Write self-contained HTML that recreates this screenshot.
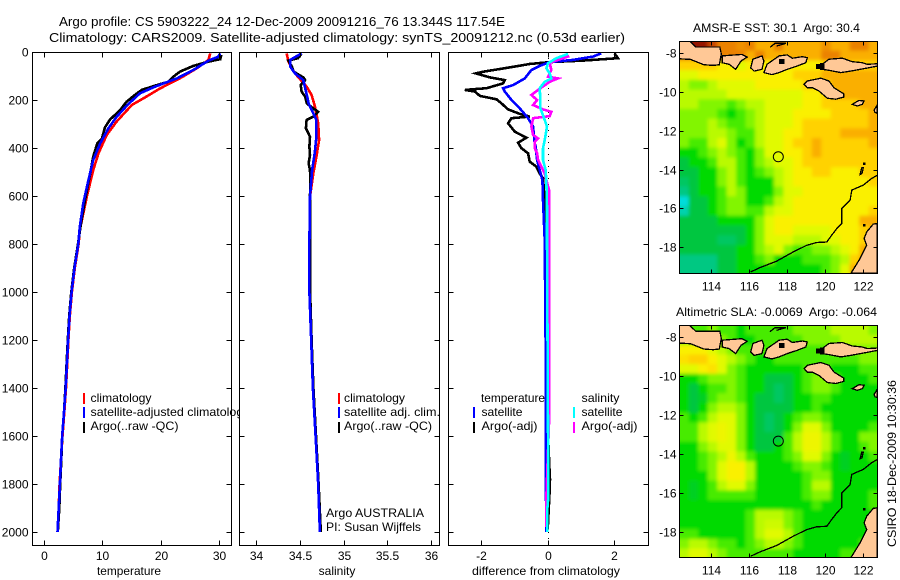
<!DOCTYPE html>
<html lang="en">
<head>
<meta charset="utf-8">
<title>Argo profile 5903222_24</title>
<style>
html,body{margin:0;padding:0;background:#fff;width:900px;height:580px;overflow:hidden}
svg{display:block}
text{font-family:"Liberation Sans",sans-serif;font-size:12px;fill:#000}
.t{font-size:13px}
</style>
</head>
<body>
<svg id="chart" xmlns="http://www.w3.org/2000/svg" width="900" height="580" viewBox="0 0 900 580">
<defs>
<clipPath id="legendClip"><rect x="0" y="0" width="240" height="580"/></clipPath>
<clipPath id="map1Clip"><rect x="679.5" y="41.5" width="198" height="232"/></clipPath>
<clipPath id="map2Clip"><rect x="679.5" y="325.5" width="198" height="232"/></clipPath>
<filter id="soft" x="-5%" y="-5%" width="110%" height="110%"><feGaussianBlur stdDeviation="1.8"/></filter>
</defs>
<text class="t" x="59" y="26" textLength="446" lengthAdjust="spacingAndGlyphs">Argo profile: CS 5903222_24 12-Dec-2009 20091216_76 13.344S 117.54E</text>
<text class="t" x="49" y="42" textLength="576" lengthAdjust="spacingAndGlyphs">Climatology: CARS2009. Satellite-adjusted climatology: synTS_20091212.nc (0.53d earlier)</text>
<g id="temperaturePanel"></g>
<g id="salinityPanel"></g>
<g id="differencePanel"></g>
<g id="map1"></g>
<g id="map2"></g>

<text x="129" y="575" text-anchor="middle" textLength="64" lengthAdjust="spacingAndGlyphs">temperature</text>
<text x="337" y="575" text-anchor="middle">salinity</text>
<text x="546" y="575" text-anchor="middle" textLength="148" lengthAdjust="spacingAndGlyphs">difference from climatology</text>

<g>
<rect x="83" y="393" width="2" height="11" fill="#f00"/>
<rect x="83" y="407" width="2" height="11" fill="#00f"/>
<rect x="83" y="422" width="2" height="11" fill="#000"/>
<text x="90.5" y="402" textLength="61" lengthAdjust="spacingAndGlyphs">climatology</text>
<text x="90.5" y="416" clip-path="url(#legendClip)" textLength="159" lengthAdjust="spacingAndGlyphs">satellite-adjusted climatology</text>
<text x="90.5" y="430" textLength="88" lengthAdjust="spacingAndGlyphs">Argo(..raw -QC)</text>
</g>
<g>
<rect x="338" y="393" width="2" height="11" fill="#f00"/>
<rect x="338" y="407" width="2" height="11" fill="#00f"/>
<rect x="338" y="422" width="2" height="11" fill="#000"/>
<text x="344" y="402" textLength="61" lengthAdjust="spacingAndGlyphs">climatology</text>
<text x="344" y="416" textLength="96" lengthAdjust="spacingAndGlyphs">satellite adj. clim.</text>
<text x="344" y="430" textLength="88" lengthAdjust="spacingAndGlyphs">Argo(..raw -QC)</text>
<text x="326" y="517" textLength="98" lengthAdjust="spacingAndGlyphs">Argo AUSTRALIA</text>
<text x="326" y="531" textLength="95" lengthAdjust="spacingAndGlyphs">PI: Susan Wijffels</text>
</g>
<g>
<text x="481" y="402" textLength="64" lengthAdjust="spacingAndGlyphs">temperature</text>
<rect x="473" y="407" width="2" height="11" fill="#00f"/>
<rect x="473" y="422" width="2" height="11" fill="#000"/>
<text x="481.5" y="416" textLength="41" lengthAdjust="spacingAndGlyphs">satellite</text>
<text x="481.5" y="430" textLength="56" lengthAdjust="spacingAndGlyphs">Argo(-adj)</text>
<text x="581.5" y="402" textLength="38" lengthAdjust="spacingAndGlyphs">salinity</text>
<rect x="573" y="407" width="2" height="11" fill="#0ff"/>
<rect x="573" y="422" width="2" height="11" fill="#f0f"/>
<text x="581.5" y="416" textLength="41" lengthAdjust="spacingAndGlyphs">satellite</text>
<text x="581.5" y="430" textLength="56" lengthAdjust="spacingAndGlyphs">Argo(-adj)</text>
</g>

<text x="693" y="32" textLength="167" lengthAdjust="spacingAndGlyphs">AMSR-E SST: 30.1&#160; Argo: 30.4</text>
<text x="676" y="316" textLength="201" lengthAdjust="spacingAndGlyphs">Altimetric SLA: -0.0069&#160; Argo: -0.064</text>
<text transform="translate(896,547) rotate(-90)" x="0" y="0" textLength="167" lengthAdjust="spacingAndGlyphs">CSIRO 18-Dec-2009 10:30:36</text>
</svg>

<script>
// ---- shared axis data ----
const depthTicks = [0,200,400,600,800,1000,1200,1400,1600,1800,2000];
const temperatureTicks = [0,10,20,30];
const salinityTicks = [34,34.5,35,35.5,36];
const salinityTickLabels = ['34','34.5','35','35.5','36'];
const differenceTicks = [-2,0,2];
const lonTicks = [114,116,118,120,122];
const latTicks = [-8,-10,-12,-14,-16,-18];

// ---- temperature profiles ----
const tailDepths = [800,900,1000,1100,1200,1300,1400,1500,1600,1700,1800,1900,2000];
const tempClimDepths = [6,33,68,110,151,193,221,290,346,422,492,603,742];
const tempClimValues = [28.5,28.2,26.2,23.3,20,17.1,15.1,12.5,10.8,9.4,8.5,7.4,6.2];
const tempClimTail = [6.0,5.35,4.85,4.5,4.25,4.05,3.85,3.55,3.25,3.0,2.75,2.6,2.4];
const tempSatDepths = [6,19,36,75,110,126,147,172,217,270,318,381,450,533,630,728];
const tempSatValues = [30.2,29.9,28.2,25.6,22.8,21.06,18.8,16.5,14.5,12.5,11.1,9.7,8.5,7.7,6.8,6.2];
const tempSatTail = [5.95,5.3,4.8,4.45,4.2,4.0,3.8,3.5,3.2,3.0,2.8,2.6,2.4];
const tempArgoDepths = [12,30,40,58,82,103,124,142,158,179,207,242,281,314,360,381,436,505,617,700];
const tempArgoValues = [30.4,30.2,28.2,25.6,23.3,22.2,21.3,18.8,16.8,15.6,14.2,13.1,11.4,10.5,10,9.2,8.5,8,7.1,6.5];
const tempArgoTail = [5.9,5.25,4.75,4.4,4.15,3.95,3.75,3.5,3.2,3.05,2.85,2.7,2.45];

// ---- salinity profiles ----
const salTailDepths = [800,1000,1200,1400,1600,1800,2000];
const salClimDepths = [6,40,89,144,179,228,297,367,436,506,603];
const salClimValues = [34.35,34.37,34.445,34.578,34.635,34.673,34.71,34.72,34.69,34.654,34.616];
const salClimTail = [34.61,34.61,34.63,34.65,34.68,34.71,34.73];
const salSatDepths = [6,33,61,89,117,186,214,283,353,422,492,603];
const salSatValues = [34.52,34.39,34.39,34.445,34.54,34.585,34.6,34.69,34.69,34.67,34.64,34.616];
const salSatTail = [34.61,34.61,34.63,34.65,34.68,34.71,34.73];
const salArgoDepths = [6,26,36,61,82,106,117,138,165,186,214,235,249,269,283,318,353,394,429,464,492,533,603];
const salArgoValues = [34.52,34.48,34.37,34.41,34.43,34.54,34.56,34.51,34.52,34.56,34.58,34.654,34.71,34.654,34.578,34.57,34.616,34.61,34.616,34.6,34.616,34.62,34.616];
const salArgoTail = [34.618,34.618,34.635,34.655,34.685,34.715,34.74];

// ---- difference profiles ----
const diffTempArgoDepths = [6,26,36,42,50,64,82,89,106,117,131,151,158,165,183,197,214,239,258,269,276,297,332,357,378,401,422,457,478,506,526,617,783,1400,1730,1780,1850,1990];
const diffTempArgoValues = [2.01,2.11,1.06,0.06,-0.54,-1.14,-1.94,-2.16,-1.74,-1.29,-1.34,-1.84,-2.49,-2.19,-2.04,-1.54,-1.39,-1.19,-0.84,-0.54,-1.09,-1.19,-0.99,-0.64,-0.89,-0.79,-0.59,-0.54,-0.34,-0.24,-0.14,-0.09,-0.09,-0.05,0.05,0.07,0.05,0];
const diffTempSatDepths = [6,19,33,42,58,75,110,138,151,165,200,235,276,311,381,394,450,492,533,617,783,1400,1850,2000];
const diffTempSatValues = [1.61,1.36,0.76,0.06,-0.24,-0.49,-0.69,-1.04,-1.34,-1.29,-1.09,-0.84,-0.59,-0.44,-0.39,-0.36,-0.32,-0.24,-0.16,-0.14,-0.09,-0.05,-0.05,-0.04];
const diffSalArgoDepths = [6,19,40,47,75,103,110,124,158,179,200,221,239,249,267,276,311,346,360,374,401,422,450,478,506,533,575,783,1500,1850,1980];
const diffSalArgoValues = [0.56,0.61,0.16,0.06,0.11,0.01,0.31,0.06,-0.29,-0.49,-0.32,-0.44,-0.14,0.11,0.06,-0.44,-0.49,-0.44,-0.29,-0.39,-0.39,-0.32,-0.29,-0.19,-0.09,-0.04,0.04,0.04,0.05,-0.04,-0.04];
const diffSalSatDepths = [8,26,47,68,89,110,124,151,200,235,283,311,367,401,450,492,547,644,783,1850,1900,2000];
const diffSalSatValues = [0.61,0.26,0.01,-0.04,0.06,0.11,-0.09,-0.24,-0.22,-0.22,-0.09,-0.02,-0.09,-0.14,-0.14,-0.06,-0.04,-0.02,-0.02,0.02,-0.01,-0.01];

// ---- map fields, 0.5 degree cells, north to south, west to east ----
const sstRows = [
[31.3,31.9,31.9,31.6,31.3,31.3,31.2,31.3,31,31,31.3,31,31,31,31,31.2,31,31,31.3,31.3,31],
[31.3,31.3,31.3,31.3,31.3,31.3,31.3,31,31.3,31,31,31,31,31,31,31.3,31.3,31,31,31,31],
[30.7,30.7,30.7,30.7,30.4,30.4,30.1,30.4,30.4,30.4,30.4,30.4,30.4,30.4,30.4,30.7,30.7,31,30.7,30.7,30.7],
[30.1,30.1,30.4,30.4,30.4,30.4,30.4,30.4,30.4,30.4,30.4,30.4,30.7,30.7,30.7,31,31,31,31,31,31],
[29.8,29.5,29.5,29.8,30.1,30.1,30.1,30.1,30.4,30.4,30.4,30.4,30.4,30.7,30.7,30.7,31,31,31,31,31],
[29.8,29.8,29.8,29.8,29.8,30.1,30.1,30.1,30.1,30.1,30.1,30.1,30.1,30.4,30.4,30.7,31,31,31,31,31],
[29.8,29.8,29.5,29.5,29.5,29.2,29.5,29.8,29.8,30.1,30.1,30.1,30.1,30.4,30.4,30.7,30.7,30.7,30.7,31,31],
[29.5,29.5,29.5,29.5,29.2,28.9,29.2,29.5,29.8,30.1,30.1,30.1,30.4,30.4,30.4,30.4,30.7,30.7,30.7,30.7,31],
[29.5,29.5,29.5,29.8,29.5,29.2,29.2,29.5,29.8,30.1,30.1,30.1,30.4,30.7,30.7,30.7,30.7,30.7,30.7,30.7,31],
[29.5,29.5,29.5,29.8,29.8,29.5,29.2,29.2,29.8,30.1,30.1,30.4,30.4,30.7,30.7,30.7,30.7,31,31,31,31],
[29.5,29.2,29.2,29.8,30.1,29.5,28.9,29.2,29.8,30.1,30.1,30.4,30.7,30.7,31,30.7,30.7,30.7,30.7,30.7,31],
[28.9,28.9,29.2,29.5,29.8,29.5,29.2,28.9,29.5,30.1,30.1,30.4,30.4,30.7,31,30.7,30.7,30.7,30.7,30.7,30.7],
[28.6,28.9,28.9,29.2,29.8,29.8,29.2,28.9,29.5,29.8,30.1,30.1,30.4,30.7,30.7,30.7,30.7,30.7,30.7,30.7,30.7],
[28.6,28.6,28.9,28.9,29.5,29.8,29.2,28.9,29.2,29.5,29.8,30.1,30.4,30.4,30.7,30.7,30.4,30.4,30.4,30.7,30.7],
[28.45,28.6,28.9,28.9,29.5,29.8,29.2,28.9,28.9,28.9,29.8,30.1,30.4,30.4,30.4,30.4,30.4,30.4,30.4,30.4,30.7],
[28.3,28.6,28.9,28.9,29.2,29.8,29.5,28.9,28.9,28.9,29.5,30.1,30.1,30.4,30.4,30.4,30.4,30.4,30.4,30.4,30.4],
[28,28.6,28.6,28.9,29.2,29.5,29.5,28.9,28.9,29.2,29.8,30.1,30.4,30.4,30.4,30.4,30.4,30.4,30.4,30.4,30.4],
[28.15,28.6,28.6,28.9,29.2,29.5,29.5,29.2,29.2,29.8,30.1,30.1,30.4,30.4,30.4,30.4,30.4,30.4,30.4,30.4,30.7],
[28.6,28.6,28.6,28.6,28.9,28.9,28.9,28.9,29.5,30.1,30.4,30.4,30.4,30.4,30.4,30.4,30.4,30.4,30.4,31,31],
[28.6,28.6,28.6,28.6,28.6,28.6,28.6,28.9,29.5,30.1,30.4,30.4,30.1,30.1,30.1,30.1,30.4,30.4,30.4,30.7,31],
[28.6,28.6,28.6,28.6,28.45,28.45,28.6,28.9,29.5,30.1,30.1,30.1,29.8,29.8,29.8,30.1,30.1,30.4,30.4,30.7,31],
[28.6,28.6,28.6,28.6,28.6,28.6,28.9,28.9,29.5,29.8,30.1,29.5,29.2,29.2,29.5,29.5,29.8,30.1,30.4,31,31],
[28.3,28.3,28.3,28.3,28.6,28.6,28.9,28.9,29.2,29.5,28.9,28.9,28.9,29.2,29.2,29.2,29.5,29.8,30.7,31,31],
[28.3,28.3,28.3,28.3,28.6,28.6,28.9,28.9,28.9,28.9,28.9,28.9,28.9,28.9,28.9,29.2,29.5,30.1,31,31,31]
];
const slaRows = [
[0,0,0,3,0,0,-3,0,0,0,0,0,3,3,3,3,6,6,6,6,3],
[3,3,3,3,3,0,-3,-3,0,0,0,0,0,3,3,3,3,6,6,6,6],
[12,12,12,9,6,3,0,0,0,0,0,0,0,0,0,0,3,3,3,3,3],
[13.5,15,15,12,9,6,3,0,-3,-3,0,0,0,0,0,0,0,0,0,3,3],
[9,9,12,13.5,9,3,0,-3,-3,-3,-3,-3,-3,0,0,0,-3,-3,-3,0,0],
[-3,-3,0,3,3,3,0,-3,-3,-6,-6,-6,-3,0,3,3,0,-3,-3,-3,0],
[-3,-6,-3,0,0,3,0,-3,-3,-6,-7.5,-6,-3,0,3,3,0,-3,-3,-3,-3],
[-3,-6,-4.5,0,3,3,0,-3,-6,-6,-7.5,-6,-3,-3,0,0,-3,-3,-3,-3,-3],
[-3,-6,-3,3,6,6,3,-3,-6,-6,-6,-6,-3,-3,0,-3,-3,-3,-3,-3,-3],
[0,-3,0,6,9,9,3,-3,-6,-7.5,-6,-3,0,3,3,0,-3,-3,-3,-3,-3],
[0,0,6,9,10.5,9,3,-3,-6,-7.5,-6,-3,3,9,9,3,-3,-3,-3,-3,0],
[0,0,6,9,10.5,9,3,-3,-6,-6,-6,0,6,10.5,10.5,6,0,-3,-3,3,3],
[-3,-3,3,6,9,9,3,-3,-6,-6,-3,0,6,10.5,10.5,6,0,-3,-3,0,3],
[-3,-3,0,3,6,10.5,6,0,-3,-3,-3,0,3,9,9,3,-3,-4.5,-3,-3,0],
[-3,-3,0,3,9,12,12,6,-3,-3,-3,-3,0,3,3,0,-3,-4.5,-3,-3,-3],
[-3,-3,-3,3,9,12,12,6,-3,-3,-3,-3,-3,0,3,3,-3,-3,-3,-3,-3],
[-3,-4.5,-3,0,6,9,9,3,-3,-3,-3,-3,-3,0,6,6,-3,-3,-3,-3,-3],
[-3,-4.5,-3,0,0,0,0,0,-3,-3,-3,-3,-3,0,3,3,-3,-3,-3,-3,0],
[-3,-3,-3,-3,-3,-3,-3,-3,-3,-3,-3,-3,-3,-3,0,-3,-3,-3,-3,-3,0],
[-3,-3,-3,-3,-3,-3,-3,0,6,6,6,3,0,-3,-3,-3,-3,-3,-3,-3,-3],
[-3,-3,-3,-3,-3,-3,-3,0,6,7.5,7.5,3,0,-3,-3,-3,-3,-3,-3,-3,-3],
[0,0,-3,-3,-3,-3,-3,0,6,9,9,6,0,-3,-3,-3,-3,-3,-3,-3,0],
[3,6,6,3,0,0,-3,0,3,6,6,3,0,-3,-3,-3,-3,-3,-3,0,3],
[6,9,9,6,3,0,0,0,0,0,0,0,-3,-3,-3,-3,-3,0,0,0,0]
];

// ---- coastline geography, lon/lat pairs ----
const landJava = [[112.31,-7.35],[112.82,-7.35],[113.18,-7.69],[114.45,-7.69],[114.53,-8.05],[114.42,-8.6],[114.1,-8.64],[113.6,-8.6],[112.9,-8.33],[112.31,-8.3]];
const landBali = [[114.57,-8.15],[115.62,-8.07],[115.89,-8.21],[115.57,-8.41],[115.29,-8.84],[114.94,-8.58],[114.57,-8.5]];
const landLombok = [[116.08,-8.76],[116.2,-8.32],[116.68,-8.15],[116.78,-8.41],[116.68,-8.84],[116.26,-8.93]];
const landSumbawa = [[116.78,-9.01],[116.94,-8.58],[117.58,-8.15],[118.01,-8.1],[118.28,-8.27],[118.81,-8.19],[119.07,-8.24],[118.99,-8.5],[118.54,-8.67],[118.01,-8.84],[117.58,-9.01],[117.2,-9.11]];
const landFlores = [[119.86,-8.58],[120.22,-8.32],[120.92,-8.27],[121.45,-8.45],[121.98,-8.5],[122.24,-8.58],[122.8,-8.55],[122.8,-8.67],[122.16,-8.79],[121.36,-8.93],[120.84,-9.01],[120.22,-8.89],[119.86,-8.84]];
const landSumba = [[118.9,-9.61],[119.07,-9.44],[119.78,-9.3],[120.22,-9.44],[120.48,-9.79],[121,-10.1],[121,-10.27],[120.57,-10.38],[120.13,-10.33],[119.69,-9.96],[119.34,-9.79],[119.07,-9.79]];
const landSavu = [[121.45,-10.64],[121.8,-10.44],[122.07,-10.47],[121.98,-10.64],[121.71,-10.73]];
const landRote = [[122.6,-10.94],[122.77,-10.68],[122.77,-11.11],[122.65,-11.06]];
const landAustralia = [[121.38,-19.34],[121.86,-18.58],[122.21,-17.9],[122.07,-17.55],[122.21,-17.21],[122.56,-16.81],[122.77,-16.78],[122.77,-19.34]];
const reefKomodoWest = [[119.55,-8.6],[119.72,-8.6],[119.72,-8.8],[119.55,-8.8]];
const reefKomodoEast = [[119.78,-8.55],[119.93,-8.55],[119.93,-8.85],[119.78,-8.85]];
const reefSumbawa = [[117.62,-8.33],[117.82,-8.33],[117.82,-8.52],[117.62,-8.52]];
const reefAshmore = [[121.86,-14.25],[121.95,-13.91],[122.03,-13.91],[121.96,-14.2]];
const reefCartier = [[122.05,-13.68],[122.1,-13.68],[122.1,-13.74],[122.05,-13.74]];
const reefRowley = [[122.04,-16.83],[122.1,-16.83],[122.1,-16.89],[122.04,-16.89]];
const coastContour = [[116.08,-19.27],[116.57,-19.05],[117.45,-18.72],[118.33,-18.24],[119.04,-17.9],[119.57,-17.76],[120.1,-17.73],[120.36,-17.38],[120.63,-17.04],[120.89,-16.78],[120.89,-16.01],[121.33,-15.58],[121.42,-15.06],[122.03,-14.8],[122.47,-14.46],[122.77,-14.29]];
const coastKangean = [[117.1,-7.71],[117.37,-7.5],[117.95,-7.5],[117.45,-7.64]];
const colorStops = [[0,220,220],[0,200,130],[0,198,65],[0,218,0],[70,235,0],[130,245,0],[185,250,0],[225,250,0],[250,240,0],[255,210,0],[250,175,0],[235,130,0],[200,70,0],[150,20,0]];
const argoLon = 117.54;
const argoLat = -13.344;

// ---- scales ----
const NS = 'http://www.w3.org/2000/svg';
const yDepth = d => 52 + d * 0.24;
const xTemp = v => 43.5 + v * 5.85;
const xSal = v => 256 + (v - 34) * 87.6;
const xDiff = v => 547.7 + v * 33.25;
const xLon = lon => 711.3 + (lon - 114) * 18.93;
const yLat = (lat, y8) => y8 + (-8 - lat) * 19.42;
const sstLevel = v => (v - 28) / 0.3;
const slaLevel = v => (v + 12) / 3;

function levelColor(level) {
  const l = Math.max(0, Math.min(colorStops.length - 1, level));
  const i = Math.min(colorStops.length - 2, Math.floor(l));
  const f = l - i;
  const c = colorStops[i].map((a, k) => Math.round(a + (colorStops[i + 1][k] - a) * f));
  return 'rgb(' + c.join(',') + ')';
}

function drawProfile(parent, name, depths, values, xf, color) {
  const el = document.createElementNS(NS, 'polyline');
  
  
  el.setAttribute('points', depths.map((d, i) => xf(values[i]).toFixed(1) + ',' + yDepth(d).toFixed(1)).join(' '));
  el.setAttribute('fill', 'none');
  el.setAttribute('stroke', color);
  el.setAttribute('stroke-width', '2.6');
  el.setAttribute('shape-rendering', 'crispEdges');
  parent.appendChild(el);
}

function drawLine(parent, x1, y1, x2, y2) {
  const el = document.createElementNS(NS, 'line');
  
  
  el.setAttribute('x1', x1);
  el.setAttribute('y1', y1);
  el.setAttribute('x2', x2);
  el.setAttribute('y2', y2);
  el.setAttribute('stroke', '#000');
  el.setAttribute('shape-rendering', 'crispEdges');
  parent.appendChild(el);
}

function drawLabel(parent, name, str, x, y, anchor) {
  const el = document.createElementNS(NS, 'text');
  
  
  el.setAttribute('x', x);
  el.setAttribute('y', y);
  el.setAttribute('text-anchor', anchor);
  el.textContent = str;
  parent.appendChild(el);
}

function drawFrame(parent, x0, y0, x1, y1) {
  const el = document.createElementNS(NS, 'rect');
  
  
  el.setAttribute('x', x0);
  el.setAttribute('y', y0);
  el.setAttribute('width', x1 - x0);
  el.setAttribute('height', y1 - y0);
  el.setAttribute('fill', 'none');
  el.setAttribute('stroke', '#000');
  el.setAttribute('stroke-width', '1');
  el.setAttribute('shape-rendering', 'crispEdges');
  parent.appendChild(el);
}

function profileAxes(parent, x0, x1, xf, xticks, xlabels, withDepthLabels) {
  const y0 = 52.5, y1 = 545.5;
  drawFrame(parent, x0, y0, x1, y1);
  xticks.forEach((t, i) => {
    const x = Math.round(xf(t)) + 0.5;
    drawLine(parent, x, y0, x, y0 + 5);
    drawLine(parent, x, y1, x, y1 - 5);
    drawLabel(parent, 'x-tick-label', xlabels[i], x, 560, 'middle');
  });
  depthTicks.forEach(d => {
    const y = Math.round(yDepth(d)) + 0.5;
    drawLine(parent, x0, y, x0 + 5, y);
    drawLine(parent, x1, y, x1 - 5, y);
    if (withDepthLabels) drawLabel(parent, 'depth-tick-label', String(d), x0 - 4, y + 4, 'end');
  });
}

function drawField(parent, rows, levelOf, y8, name) {
  const g = document.createElementNS(NS, 'g');
  
  
  g.setAttribute('filter', 'url(#soft)');
  const lonStart = 112.31, latStart = -7.38, step = 0.5;
  rows.forEach((row, j) => {
    row.forEach((v, i) => {
      const el = document.createElementNS(NS, 'rect');
      
      
      const xa = xLon(lonStart + i * step) - (i === 0 ? 8 : 0);
      const xb = xLon(lonStart + (i + 1) * step) + (i === row.length - 1 ? 8 : 0.4);
      const ya = yLat(latStart - j * step, y8) - (j === 0 ? 8 : 0);
      const yb = yLat(latStart - (j + 1) * step, y8) + (j === rows.length - 1 ? 8 : 0.4);
      el.setAttribute('x', xa.toFixed(2));
      el.setAttribute('y', ya.toFixed(2));
      el.setAttribute('width', (xb - xa).toFixed(2));
      el.setAttribute('height', (yb - ya).toFixed(2));
      el.setAttribute('fill', levelColor(levelOf(v)));
      g.appendChild(el);
    });
  });
  parent.appendChild(g);
}

function drawGeo(parent, name, pts, y8, fill, closed) {
  const el = document.createElementNS(NS, closed ? 'polygon' : 'polyline');
  
  
  el.setAttribute('points', pts.map(p => xLon(p[0]).toFixed(1) + ',' + yLat(p[1], y8).toFixed(1)).join(' '));
  el.setAttribute('fill', fill);
  el.setAttribute('stroke', '#000');
  el.setAttribute('stroke-width', '1.3');
  el.setAttribute('shape-rendering', 'crispEdges');
  parent.appendChild(el);
}

function drawMap(id, rows, levelOf, y8, x0, x1, y0, y1, clipId, name) {
  const parent = document.getElementById(id);
  const clip = document.createElementNS(NS, 'g');
  
  
  clip.setAttribute('clip-path', 'url(#' + clipId + ')');
  parent.appendChild(clip);
  drawField(clip, rows, levelOf, y8, name);
  const land = '#ffc896';
  drawGeo(clip, 'land-java', landJava, y8, land, true);
  drawGeo(clip, 'land-bali', landBali, y8, land, true);
  drawGeo(clip, 'land-lombok', landLombok, y8, land, true);
  drawGeo(clip, 'land-sumbawa', landSumbawa, y8, land, true);
  drawGeo(clip, 'land-flores', landFlores, y8, land, true);
  drawGeo(clip, 'land-sumba', landSumba, y8, land, true);
  drawGeo(clip, 'land-savu', landSavu, y8, land, true);
  drawGeo(clip, 'land-rote', landRote, y8, land, true);
  drawGeo(clip, 'land-australia', landAustralia, y8, land, true);
  drawGeo(clip, 'reef-komodo-west', reefKomodoWest, y8, '#000', true);
  drawGeo(clip, 'reef-komodo-east', reefKomodoEast, y8, '#000', true);
  drawGeo(clip, 'reef-sumbawa', reefSumbawa, y8, '#000', true);
  drawGeo(clip, 'reef-ashmore', reefAshmore, y8, 'none', true);
  drawGeo(clip, 'reef-cartier', reefCartier, y8, '#000', true);
  drawGeo(clip, 'reef-rowley', reefRowley, y8, '#000', true);
  drawGeo(clip, 'coast-contour', coastContour, y8, 'none', false);
  drawGeo(clip, 'coast-kangean', coastKangean, y8, 'none', false);
  const marker = document.createElementNS(NS, 'circle');
  
  
  marker.setAttribute('cx', xLon(argoLon));
  marker.setAttribute('cy', yLat(argoLat, y8));
  marker.setAttribute('r', '5');
  marker.setAttribute('fill', 'none');
  marker.setAttribute('stroke', '#000');
  clip.appendChild(marker);
  drawFrame(parent, x0, y0, x1, y1);
  lonTicks.forEach(t => {
    const x = Math.round(xLon(t)) + 0.5;
    drawLine(parent, x, y0, x, y0 + 4);
    drawLine(parent, x, y1, x, y1 - 4);
    drawLabel(parent, 'longitude-tick-label', String(t), x, y1 + 17, 'middle');
  });
  latTicks.forEach(t => {
    const y = Math.round(yLat(t, y8)) + 0.5;
    drawLine(parent, x0, y, x0 + 4, y);
    drawLine(parent, x1, y, x1 - 4, y);
    drawLabel(parent, 'latitude-tick-label', String(t), x0 - 3, y + 4, 'end');
  });
}

// ---- temperature panel ----
const pT = document.getElementById('temperaturePanel');
drawProfile(pT, 'temperature-climatology-line', tempClimDepths.concat(tailDepths), tempClimValues.concat(tempClimTail), xTemp, '#f00');
drawProfile(pT, 'temperature-argo-line', tempArgoDepths.concat(tailDepths), tempArgoValues.concat(tempArgoTail), xTemp, '#000');
drawProfile(pT, 'temperature-satellite-line', tempSatDepths.concat(tailDepths), tempSatValues.concat(tempSatTail), xTemp, '#00f');
profileAxes(pT, 32.5, 231.5, xTemp, temperatureTicks, temperatureTicks.map(String), true);

// ---- salinity panel ----
const pS = document.getElementById('salinityPanel');
drawProfile(pS, 'salinity-climatology-line', salClimDepths.concat(salTailDepths), salClimValues.concat(salClimTail), xSal, '#f00');
drawProfile(pS, 'salinity-argo-line', salArgoDepths.concat(salTailDepths), salArgoValues.concat(salArgoTail), xSal, '#000');
drawProfile(pS, 'salinity-satellite-line', salSatDepths.concat(salTailDepths), salSatValues.concat(salSatTail), xSal, '#00f');
profileAxes(pS, 239.5, 439.5, xSal, salinityTicks, salinityTickLabels, false);

// ---- difference panel ----
const pD = document.getElementById('differencePanel');
const zero = document.createElementNS(NS, 'line');


zero.setAttribute('x1', Math.round(xDiff(0)) + 0.5);
zero.setAttribute('x2', Math.round(xDiff(0)) + 0.5);
zero.setAttribute('y1', yDepth(0));
zero.setAttribute('y2', yDepth(2050));
zero.setAttribute('stroke', '#000');
zero.setAttribute('stroke-dasharray', '1 5');
zero.setAttribute('shape-rendering', 'crispEdges');
pD.appendChild(zero);
drawProfile(pD, 'difference-temperature-argo-line', diffTempArgoDepths, diffTempArgoValues, xDiff, '#000');
drawProfile(pD, 'difference-temperature-satellite-line', diffTempSatDepths, diffTempSatValues, xDiff, '#00f');
drawProfile(pD, 'difference-salinity-argo-line', diffSalArgoDepths, diffSalArgoValues, xDiff, '#f0f');
drawProfile(pD, 'difference-salinity-satellite-line', diffSalSatDepths, diffSalSatValues, xDiff, '#0ff');
profileAxes(pD, 448.5, 648.5, xDiff, differenceTicks, differenceTicks.map(String), false);

// ---- maps ----
drawMap('map1', sstRows, sstLevel, 53, 679.5, 877.5, 41.5, 273.5, 'map1Clip', 'sst');
drawMap('map2', slaRows, slaLevel, 337.3, 679.5, 877.5, 325.5, 557.5, 'map2Clip', 'sla');
</script>
</body>
</html>
